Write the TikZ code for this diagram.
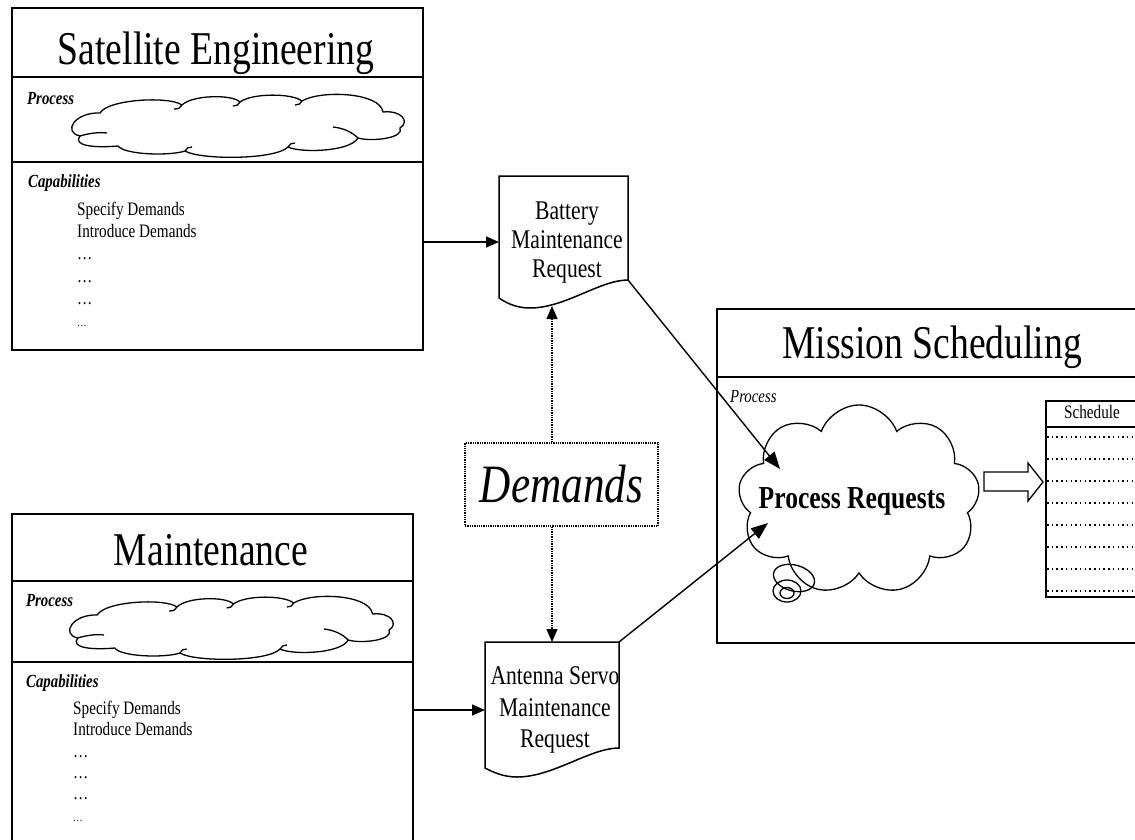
\documentclass[tikz,border=0pt]{standalone}
\usepackage{fontspec}
\setmainfont[FakeStretch=0.8]{Liberation Serif}
\usetikzlibrary{shapes.symbols,arrows.meta,calc}

\begin{document}
\begin{tikzpicture}[x=1pt,y=-1pt,
  frame/.style={draw, line width=1.8pt, inner sep=0pt, anchor=north west},
  rule/.style={line width=1.4pt},
  conn/.style={line width=1.4pt, -{Triangle[length=13pt,width=11pt]}},
  bigconn/.style={line width=1.4pt, -{Triangle[length=17pt,width=13pt]}},
  dconn/.style={conn, densely dotted},
  puff/.style={cloud, draw, line width=1.3pt, cloud ignores aspect, inner sep=0pt},
  cloudline/.style={line width=1.3pt, line join=round},
  title/.style={font=\fontsize{47}{50}\selectfont, anchor=base, inner sep=0pt},
  item/.style={font=\fontsize{19}{20}\selectfont, anchor=base west, inner sep=0pt},
  head/.style={font=\fontsize{18.5}{20}\selectfont\bfseries\itshape, anchor=base west, inner sep=0pt},
  doctext/.style={align=center, inner sep=0pt},
  docshape/.style={draw, line width=1.5pt},
  flatcloud/.pic={
    \draw[cloudline] (30,16)
      .. controls (38,2) and (100,-1) .. (112,8)
      .. controls (122,-2) and (162,-3) .. (170,5)
      .. controls (182,-4) and (222,-4) .. (232,4)
      .. controls (250,-7) and (310,-5) .. (313,15)
      .. controls (332,13) and (340,25) .. (330,31)
      .. controls (335,41) and (302,45) .. (288,41)
      .. controls (280,55) and (230,56) .. (218,50)
      .. controls (205,63) and (130,63) .. (115,54)
      .. controls (100,59) and (55,58) .. (48,49)
      .. controls (25,51) and (2,49) .. (10,39)
      .. controls (-8,35) and (5,15) .. (30,16) -- cycle;
    % small inner strokes where the puffs meet
    \draw[cloudline] (10,39) .. controls (20,36) and (30,35) .. (37,36);
    \draw[cloudline] (288,41) .. controls (282,35) and (273,31) .. (263,30);
    \draw[cloudline] (112,8) .. controls (111,11) and (108,12) .. (104,12);
    \draw[cloudline] (170,5) .. controls (169,8) and (166,9) .. (163,9);
    \draw[cloudline] (232,4) .. controls (231,7) and (228,8) .. (225,8);
    \draw[cloudline] (218,50) .. controls (219,47) and (222,46) .. (225,46);
    \draw[cloudline] (115,54) .. controls (116,51) and (119,50) .. (122,50);
  },
]
\useasboundingbox (0,0) rectangle (1135,839);
\clip (0,0) rectangle (1135,839);

% ---------- Satellite Engineering ----------
\node[frame, minimum width=411pt, minimum height=342pt] (sat) at (11,7) {};
\draw[rule] (sat.west |- 0,77) -- (sat.east |- 0,77);
\draw[rule] (sat.west |- 0,162) -- (sat.east |- 0,162);
\node[title] (satT) at (216,64) {Satellite Engineering};
\node[head] (satP) at (27,104) {Process};
\pic at (70,97) {flatcloud};
\node[head] (satK) at (28,187) {Capabilities};
\node[item] (satS1) at (77,215) {Specify Demands};
\node[item] (satS2) at (77,237) {Introduce Demands};
\node[item] (satD1) at (77,259) {\ldots};
\node[item] (satD2) at (77,282) {\ldots};
\node[item] (satD3) at (77,304) {\ldots};
\node[item, font=\fontsize{12}{13}\selectfont] (satD4) at (77,326) {\ldots};

% ---------- Maintenance ----------
\node[frame, minimum width=401pt, minimum height=345pt] (mnt) at (11,513) {};
\draw[rule] (mnt.west |- 0,581) -- (mnt.east |- 0,581);
\draw[rule] (mnt.west |- 0,662) -- (mnt.east |- 0,662);
\node[title] (mntT) at (211,565) {Maintenance};
\node[head] (mntP) at (26,606) {Process};
\pic[xscale=0.973] at (68,599) {flatcloud};
\node[head] (mntK) at (26,687) {Capabilities};
\node[item] (mntS1) at (73,714) {Specify Demands};
\node[item] (mntS2) at (73,735) {Introduce Demands};
\node[item] (mntD1) at (73,757) {\ldots};
\node[item] (mntD2) at (73,778) {\ldots};
\node[item] (mntD3) at (73,799) {\ldots};
\node[item, font=\fontsize{12}{13}\selectfont] (mntD4) at (73,821) {\ldots};

% ---------- Request documents ----------
\draw[docshape] (499,176) -- (628,176) -- (628,280)
  .. controls (600,280) and (565,308) .. (530,308)
  .. controls (515,308) and (505,302) .. (499,298) -- cycle;
\node[doctext, font=\fontsize{27}{29}\selectfont] (bat) at (567,243) {Battery\\Maintenance\\Request};

\draw[docshape] (485,642) -- (619,642) -- (619,748)
  .. controls (590,748) and (553,777) .. (517,777)
  .. controls (503,777) and (493,772) .. (485,768) -- cycle;
\node[doctext, font=\fontsize{27}{31.5}\selectfont] (ant) at (555,710) {Antenna Servo\\Maintenance\\Request};

% ---------- Demands ----------
\node[draw, densely dotted, line width=1.3pt, minimum width=193pt, minimum height=83pt, inner sep=0pt,
  font=\fontsize{54}{56}\selectfont\itshape] (dem) at (561.5,484.5) {Demands};

% ---------- Mission Scheduling ----------
\node[frame, minimum width=440pt, minimum height=334pt] (mis) at (716,308) {};
\draw[rule] (mis.west |- 0,377) -- (mis.east |- 0,377);
\node[title] (misT) at (932,358) {Mission Scheduling};
\node[font=\fontsize{18.5}{20}\selectfont\itshape, anchor=base west, inner sep=0pt] (misP) at (730,402) {Process};
\node[puff, cloud puffs=9, cloud puff arc=140, minimum width=242pt, minimum height=190pt] (misC) at (859,500) {};
\node[font=\fontsize{32}{34}\selectfont\bfseries, anchor=base, inner sep=0pt] (proc) at (852,508) {Process Requests};
\draw[line width=1.3pt, rotate around={-15:(794,578)}] (794,578) ellipse [x radius=21, y radius=13];
\draw[line width=1.3pt] (787,591) ellipse [x radius=14, y radius=11];
\draw[line width=1.3pt] (787,593) ellipse [x radius=7, y radius=5.5];

% schedule table
\node[frame, minimum width=110pt, minimum height=196pt] (sch) at (1045,400) {};
\draw[line width=1.2pt] (sch.west |- 0,427) -- (sch.east |- 0,427);
\node[font=\fontsize{19}{20}\selectfont, anchor=base, inner sep=0pt] (schT) at (1092,418) {Schedule};
\foreach \r in {0,...,7}
  \draw[line width=1.1pt, dash pattern=on 1.5pt off 3.2pt] (1047,437+22*\r) -- (1140,437+22*\r);

% hollow block arrow from the process to the schedule
\draw[line width=1.3pt] (984,472) -- (1028,472) -- (1028,463) -- (1043,482)
  -- (1028,501) -- (1028,491) -- (984,491) -- cycle;

% ---------- connectors ----------
\coordinate (batIn) at (499,242);
\coordinate (antIn) at (485,710);
\coordinate (batLow) at (552,306);
\coordinate (antTop) at (552,642);
\coordinate (batCorner) at (628,280);
\coordinate (antCorner) at (619,642);
\coordinate (hitA) at (780,469);
\coordinate (hitB) at (768,523);
\draw[conn] (sat.east |- batIn) -- (batIn);
\draw[conn] (mnt.east |- antIn) -- (antIn);
\draw[dconn] (dem.north -| batLow) -- (batLow);
\draw[dconn] (dem.south -| antTop) -- (antTop);
\draw[bigconn] (batCorner) -- (hitA);
\draw[bigconn] (antCorner) -- (hitB);
\end{tikzpicture}
\end{document}
